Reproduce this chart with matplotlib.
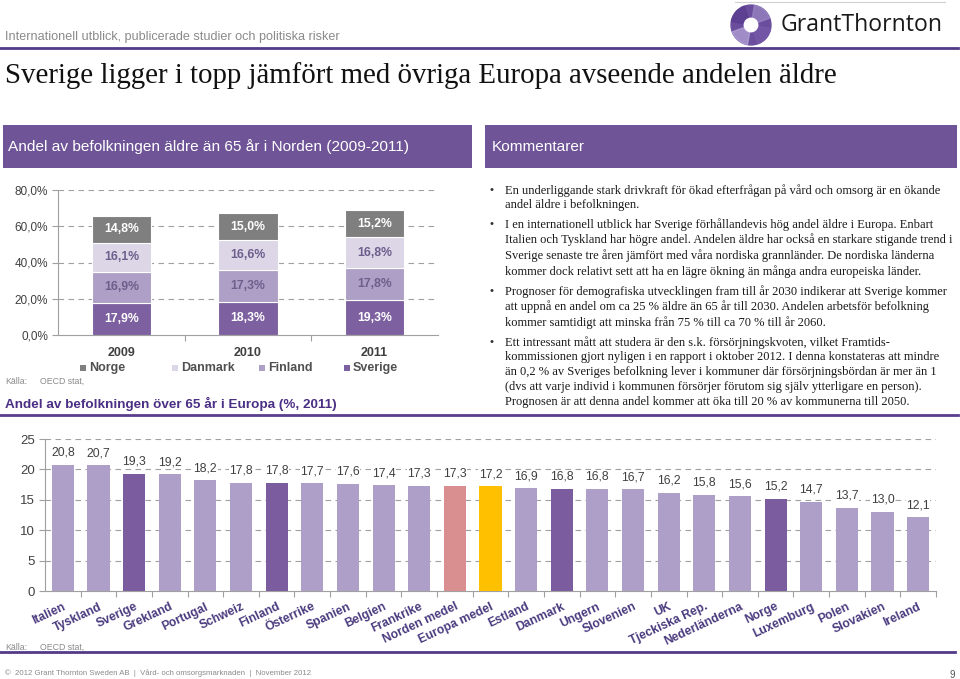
import matplotlib
matplotlib.use("Agg")
import matplotlib.pyplot as plt
from matplotlib.patches import Rectangle, Circle, Wedge
from matplotlib.lines import Line2D
import numpy as np

W, H = 960, 679
# ---------------- data ----------------
years = ["2009", "2010", "2011"]
nordic_series = ["Sverige", "Finland", "Danmark", "Norge"]
sverige = [17.9, 18.3, 19.3]
finland = [16.9, 17.3, 17.8]
danmark = [16.1, 16.6, 16.8]
norge = [14.8, 15.0, 15.2]
top_yticks = [0, 20, 40, 60, 80]

countries = ["Italien", "Tyskland", "Sverige", "Grekland", "Portugal", "Schweiz",
             "Finland", "Österrike", "Spanien", "Belgien", "Frankrike",
             "Norden medel", "Europa medel", "Estland", "Danmark", "Ungern",
             "Slovenien", "UK", "Tjeckiska Rep.", "Nederländerna", "Norge",
             "Luxemburg", "Polen", "Slovakien", "Ireland"]
values = [20.8, 20.7, 19.3, 19.2, 18.2, 17.8, 17.8, 17.7, 17.6, 17.4, 17.3,
          17.3, 17.2, 16.9, 16.8, 16.8, 16.7, 16.2, 15.8, 15.6, 15.2, 14.7,
          13.7, 13.0, 12.1]
bottom_yticks = [0, 5, 10, 15, 20, 25]

bullets = [
    "En underliggande stark drivkraft för ökad efterfrågan på vård och omsorg är en ökande\nandel äldre i befolkningen.",
    "I en internationell utblick har Sverige förhållandevis hög andel äldre i Europa. Enbart\nItalien och Tyskland har högre andel. Andelen äldre har också en starkare stigande trend i\nSverige senaste tre åren jämfört med våra nordiska grannländer. De nordiska länderna\nkommer dock relativt sett att ha en lägre ökning än många andra europeiska länder.",
    "Prognoser för demografiska utvecklingen fram till år 2030 indikerar att Sverige kommer\natt uppnå en andel om ca 25 % äldre än 65 år till 2030. Andelen arbetsför befolkning\nkommer samtidigt att minska från 75 % till ca 70 % till år 2060.",
    "Ett intressant mått att studera är den s.k. försörjningskvoten, vilket Framtids-\nkommissionen gjort nyligen i en rapport i oktober 2012. I denna konstateras att mindre\nän 0,2 % av Sveriges befolkning lever i kommuner där försörjningsbördan är mer än 1\n(dvs att varje individ i kommunen försörjer förutom sig själv ytterligare en person).\nPrognosen är att denna andel kommer att öka till 20 % av kommunerna till 2050.",
]

# ---------------- styles ----------------
PURPLE = "#6f5597"
DARKP = "#4b2f84"
C_SVE = "#7d609f"
C_FIN = "#ae9fc6"
C_DAN = "#dcd6e7"
C_NOR = "#7f7f7f"
C_BAR = "#ad9fc8"
C_NORDIC = "#7b5c9f"
C_NMED = "#d98f8f"
C_EMED = "#ffc000"
SANS = ["Liberation Sans", "DejaVu Sans"]
SERIF = ["Liberation Serif", "DejaVu Serif"]

plt.rcParams["font.family"] = SANS
fig = plt.figure(figsize=(W / 100, H / 100), dpi=100)


def fx(x):
    return x / W


def fy(y):
    return 1 - y / H


def ax_rect(l, t, r, b):
    return [fx(l), fy(b), (r - l) / W, (b - t) / H]


def hline(y, x0, x1, color, lw):
    fig.add_artist(Line2D([fx(x0), fx(x1)], [fy(y), fy(y)], color=color, lw=lw,
                          transform=fig.transFigure))


# ---------------- header ----------------
fig.text(fx(5), fy(37), "Internationell utblick, publicerade studier och politiska risker",
         fontsize=9.1, color="#8a8a8a", va="center", ha="left")
hline(2, 735, 945, "#d0d0d0", 0.8)
hline(48, 0, 958, "#553a86", 2.0)
fig.text(fx(5), fy(76), "Sverige ligger i topp jämfört med övriga Europa avseende andelen äldre",
         fontsize=20.8, family=SERIF, color="#111111", va="center", ha="left")

# logo
lax = fig.add_axes(ax_rect(729, 4, 773, 46))
lax.set_xlim(-1, 1)
lax.set_ylim(-1, 1)
lax.set_aspect("equal")
lax.axis("off")
lax.add_patch(Circle((0, 0), 0.95, color="#6a4d9c"))
for i, c in enumerate(["#9a86c4", "#5b3c8f", "#b3a3d6", "#7659a8"]):
    lax.add_patch(Wedge((0, 0), 0.95, 90 * i + 20, 90 * i + 80, width=0.6, color=c, alpha=0.75))
lax.add_patch(Circle((0, 0), 0.32, color="white"))
fig.text(fx(781), fy(25), "GrantThornton", fontsize=16.6, color="#1a1a1a",
         va="center", ha="left", family=["Open Sans", "DejaVu Sans"])

# purple header boxes
fig.add_artist(Rectangle((fx(3), fy(168)), (472 - 3) / W, (168 - 125) / H,
                         transform=fig.transFigure, color=PURPLE, lw=0))
fig.add_artist(Rectangle((fx(485), fy(168)), (957 - 485) / W, (168 - 125) / H,
                         transform=fig.transFigure, color=PURPLE, lw=0))
fig.text(fx(8), fy(147), "Andel av befolkningen äldre än 65 år i Norden (2009-2011)",
         fontsize=11.1, color="white", va="center", ha="left")
fig.text(fx(492), fy(147), "Kommentarer", fontsize=11.1, color="white",
         va="center", ha="left")

# ---------------- top stacked chart ----------------
ax1 = fig.add_axes(ax_rect(58, 190, 438, 335))
x = np.arange(len(years))
stack = [(sverige, C_SVE, "white"), (finland, C_FIN, "#6d5e8c"),
         (danmark, C_DAN, "#6d5e8c"), (norge, C_NOR, "white")]
bottom = np.zeros(len(years))
for vals, col, tcol in stack:
    ax1.bar(x, vals, 0.47, bottom=bottom, color=col, edgecolor="white",
            linewidth=0.8, zorder=3)
    for xi, v, b in zip(x, vals, bottom):
        ax1.text(xi, b + v / 2, f"{v:.1f}%".replace(".", ","), ha="center",
                 va="center", fontsize=8.8, fontweight="bold", color=tcol, zorder=4)
    bottom = bottom + np.array(vals)
ax1.set_xlim(-0.5, 2.5)
ax1.set_ylim(0, 80)
ax1.set_yticks(top_yticks)
ax1.set_yticklabels([f"{t:.1f}%".replace(".", ",") for t in top_yticks],
                    fontsize=8.5, color="#404040")
for t in top_yticks[1:]:
    ax1.axhline(t, color="#a0a0a0", lw=0.8, ls=(0, (5, 4)), zorder=1)
ax1.set_xticks([0.5, 1.5])
ax1.set_xticklabels([])
ax1.tick_params(axis="x", length=4, color="#a0a0a0", direction="out")
ax1.tick_params(axis="y", length=4, color="#a0a0a0", direction="out", pad=3)
for s in ["top", "right"]:
    ax1.spines[s].set_visible(False)
ax1.spines["left"].set_color("#a0a0a0")
ax1.spines["bottom"].set_color("#a0a0a0")
ax1.patch.set_alpha(0)
for xi, yr in zip(x, years):
    ax1.text(xi, -10, yr, ha="center", va="center", fontsize=9,
             fontweight="bold", color="#404040", transform=ax1.transData,
             clip_on=False)

# legend (manual)
leg_items = [("Norge", C_NOR, 83), ("Danmark", C_DAN, 175),
             ("Finland", C_FIN, 262), ("Sverige", C_SVE, 347)]
for name, col, lx in leg_items:
    fig.add_artist(Rectangle((fx(lx - 3), fy(371)), 6 / W, 6 / H,
                             transform=fig.transFigure, color=col, lw=0))
    fig.text(fx(lx + 6), fy(368), name, fontsize=9, fontweight="bold",
             color="#505050", va="center", ha="left")

fig.text(fx(5), fy(381), "Källa:", fontsize=6.3, color="#8a8a8a", va="center")
fig.text(fx(40), fy(381), "OECD stat,", fontsize=6.3, color="#8a8a8a", va="center")
fig.text(fx(5), fy(404), "Andel av befolkningen över 65 år i Europa (%, 2011)",
         fontsize=9.7, fontweight="bold", color=DARKP, va="center", ha="left")
hline(415, 0, 958, "#5b3f8c", 2.0)

# ---------------- comment bullets ----------------
starts = [190, 224, 291, 342]
for st, txt in zip(starts, bullets):
    fig.text(fx(489), fy(st), "•", fontsize=8, color="#333333", va="center", ha="left")
    fig.text(fx(505), fy(st - 6), txt, fontsize=9.0, family=SERIF,
             color="#1a1a1a", va="top", ha="left", linespacing=1.30)

# ---------------- bottom bar chart ----------------
ax2 = fig.add_axes(ax_rect(45, 439, 936, 591))
xb = np.arange(len(countries))
nordic = {"Sverige", "Finland", "Danmark", "Norge"}
cols = []
for c in countries:
    if c in nordic:
        cols.append(C_NORDIC)
    elif c == "Norden medel":
        cols.append(C_NMED)
    elif c == "Europa medel":
        cols.append(C_EMED)
    else:
        cols.append(C_BAR)
ax2.bar(xb, values, 0.62, color=cols, zorder=3)
for xi, v in zip(xb, values):
    ax2.text(xi, v + 1.0, f"{v:.1f}".replace(".", ","), ha="center", va="bottom",
             fontsize=8.8, color="#404040", zorder=4,
             bbox=dict(facecolor="white", edgecolor="none", pad=0.3))
ax2.set_xlim(-0.5, len(countries) - 0.5)
ax2.set_ylim(0, 25)
ax2.set_yticks(bottom_yticks)
ax2.set_yticklabels([str(t) for t in bottom_yticks], fontsize=9.5, color="#404040")
for t in bottom_yticks[1:]:
    ax2.axhline(t, color="#a0a0a0", lw=0.8, ls=(0, (5, 4)), zorder=1)
ax2.set_xticks(xb + 0.5, minor=False)
ax2.set_xticklabels([])
ax2.set_xticks(xb, minor=True)
ax2.set_xticklabels(countries, minor=True, rotation=25, ha="right",
                    rotation_mode="anchor", fontsize=8.7, fontweight="bold",
                    color="#4a3a7e")
ax2.tick_params(axis="x", which="major", length=4, color="#a0a0a0")
ax2.tick_params(axis="x", which="minor", length=0, pad=7)
ax2.tick_params(axis="y", length=4, color="#a0a0a0", pad=3)
for s in ["top", "right"]:
    ax2.spines[s].set_visible(False)
ax2.spines["left"].set_color("#a0a0a0")
ax2.spines["bottom"].set_color("#a0a0a0")
ax2.patch.set_alpha(0)

fig.text(fx(5), fy(647), "Källa:", fontsize=6.3, color="#8a8a8a", va="center")
fig.text(fx(40), fy(647), "OECD stat,", fontsize=6.3, color="#8a8a8a", va="center")
hline(652, 0, 955, "#553a86", 2.0)
fig.text(fx(5), fy(673),
         "©  2012 Grant Thornton Sweden AB  |  Vård- och omsorgsmarknaden  |  November 2012",
         fontsize=5.6, color="#8a8a8a", va="center", ha="left")
fig.text(fx(952), fy(675), "9", fontsize=7, color="#555555", va="center", ha="center")

fig.savefig("out.png", dpi=100)
